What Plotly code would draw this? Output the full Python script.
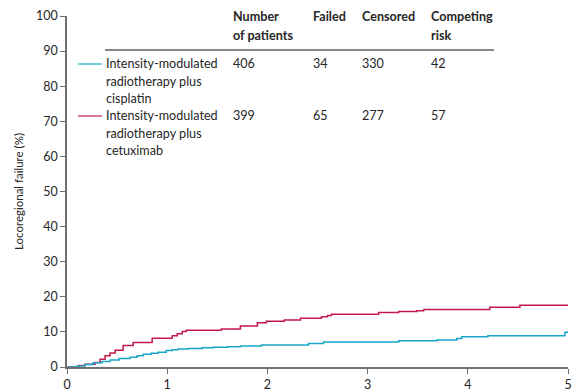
import plotly.graph_objects as go

# ---- data ----
years_cis = [0, 0.10, 0.18, 0.26, 0.35, 0.43, 0.52, 0.63, 0.70, 0.76, 0.84, 0.91, 0.99, 1.05, 1.11, 1.21, 1.35, 1.46, 1.60, 1.73, 1.94, 2.41, 2.56, 3.31, 3.69, 3.89, 3.94, 4.20, 4.97, 5.0]
fail_cis = [0, 0.3, 0.7, 1.2, 1.6, 2.0, 2.4, 2.8, 3.2, 3.6, 3.9, 4.2, 4.7, 4.9, 5.1, 5.3, 5.5, 5.6, 5.8, 6.0, 6.3, 6.7, 7.1, 7.5, 7.7, 8.1, 8.6, 8.9, 9.9, 9.9]

years_cet = [0, 0.12, 0.18, 0.28, 0.33, 0.38, 0.43, 0.48, 0.56, 0.66, 0.85, 1.05, 1.10, 1.15, 1.19, 1.54, 1.73, 1.90, 1.99, 2.17, 2.33, 2.54, 2.60, 2.64, 3.11, 3.31, 3.49, 3.56, 4.22, 4.52, 5.0]
fail_cet = [0, 0.4, 0.8, 1.3, 2.2, 3.2, 4.0, 4.8, 6.1, 7.0, 8.2, 8.9, 9.5, 10.1, 10.5, 10.8, 11.7, 12.6, 13.0, 13.4, 13.9, 14.3, 14.7, 15.0, 15.5, 15.8, 16.0, 16.4, 17.0, 17.6, 17.6]

label_lines = [["Intensity-modulated", "radiotherapy plus", "cisplatin"],
               ["Intensity-modulated", "radiotherapy plus", "cetuximab"]]
n_patients = [406, 399]
n_failed = [34, 65]
n_censored = [330, 277]
n_competing = [42, 57]

x_ticks = [0, 1, 2, 3, 4, 5]
y_ticks = [0, 10, 20, 30, 40, 50, 60, 70, 80, 90, 100]

BLUE = "#17a6c9"
RED = "#c2184b"
AX = "#6f6f6f"
TXT = "#262626"
FONT = "Lato"
FS = 12.6

fig = go.Figure()
fig.add_trace(go.Scatter(x=years_cet, y=fail_cet, mode="lines", line=dict(color=RED, width=1.5, shape="hv"), showlegend=False))
fig.add_trace(go.Scatter(x=years_cis, y=fail_cis, mode="lines", line=dict(color=BLUE, width=1.5, shape="hv"), showlegend=False))

W, H = 573, 392
L, R, T, B = 67, 5, 16, 25
PW, PH = W - L - R, H - T - B

def px(x):
    return (x - L) / PW

def py(y):
    return (H - B - y) / PH

ann = []
def txt(x, y, s, bold=False, size=FS):
    ann.append(dict(x=px(x), y=py(y), xref="paper", yref="paper", text=("<b>%s</b>" % s) if bold else s,
                    showarrow=False, xanchor="left", yanchor="middle",
                    font=dict(family=FONT, size=size, color=TXT)))

# header
txt(231, 17, "Number", True)
txt(231, 35, "of patients", True)
txt(311, 17, "Failed", True)
txt(360, 17, "Censored", True)
txt(429, 17, "Competing", True)
txt(429, 35, "risk", True)

shapes = [dict(type="line", xref="paper", yref="paper", x0=px(105), x1=px(494), y0=py(50), y1=py(50),
               line=dict(color="#888888", width=2))]

row_y = [64, 116]
colors = [BLUE, RED]
for i in range(2):
    y0 = row_y[i]
    shapes.append(dict(type="line", xref="paper", yref="paper", x0=px(78), x1=px(102), y0=py(y0), y1=py(y0),
                       line=dict(color=colors[i], width=1.2)))
    for j, line in enumerate(label_lines[i]):
        txt(104, y0 + 17 * j, line)
    txt(231, y0, str(n_patients[i]))
    txt(311, y0, str(n_failed[i]))
    txt(360, y0, str(n_censored[i]))
    txt(429, y0, str(n_competing[i]))

fig.update_layout(
    width=W, height=H, margin=dict(l=L, r=R, t=T, b=B, autoexpand=False),
    paper_bgcolor="white", plot_bgcolor="white",
    font=dict(family=FONT, size=12, color=TXT),
    annotations=ann, shapes=shapes, showlegend=False,
    xaxis=dict(range=[0, 5], tickvals=x_ticks, ticks="outside", ticklen=5, tickwidth=1.2, tickcolor=AX,
               showline=True, linecolor=AX, linewidth=1.5, showgrid=False, zeroline=False, automargin=False,
               tickfont=dict(size=12.5, color=TXT, family=FONT), fixedrange=True),
    yaxis=dict(range=[0, 100], tickvals=y_ticks, ticks="outside", ticklen=5, tickwidth=1.2, tickcolor=AX,
               showline=True, linecolor=AX, linewidth=1.5, showgrid=False, zeroline=False, automargin=False,
               tickfont=dict(size=12.5, color=TXT, family=FONT),
               title=dict(text="Locoregional failure (%)", font=dict(size=11.5, color=TXT, family=FONT), standoff=10),
               fixedrange=True),
)

fig.write_html("out.html")
